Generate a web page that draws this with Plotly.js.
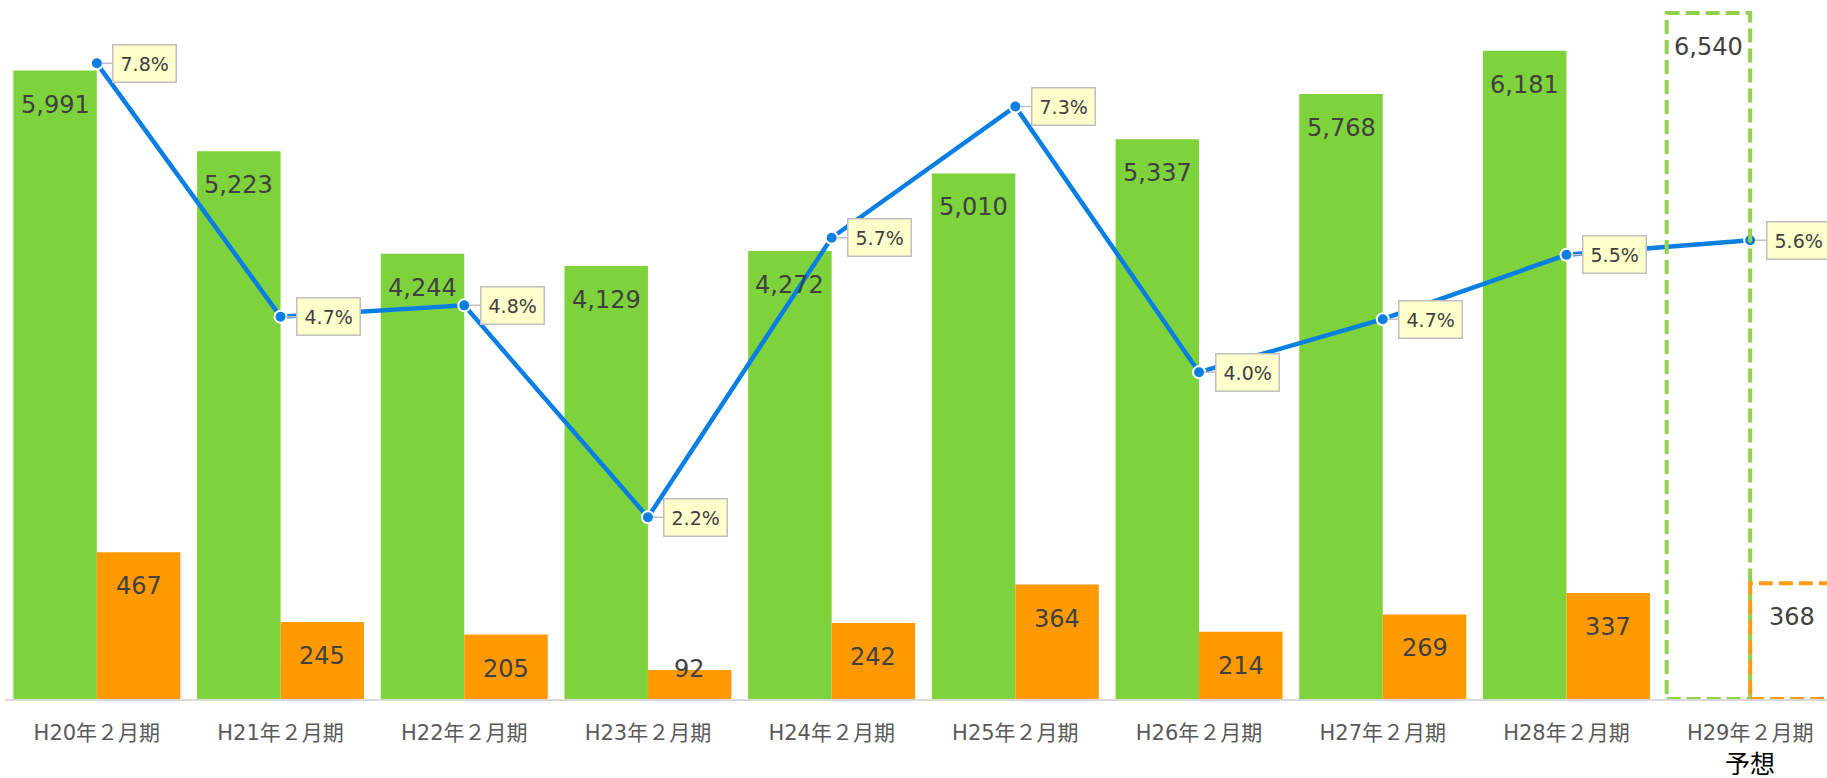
<!DOCTYPE html>
<html>
<head>
<meta charset="utf-8">
<script src="https://cdn.plot.ly/plotly-3.0.1.min.js"></script>
<style>
  html, body { margin: 0; padding: 0; background: #ffffff; }
  #chart { width: 1827px; height: 778px; }
</style>
</head>
<body>
<div id="chart"></div>
<script>
// ---- data ----
const categories = ["H20年２月期", "H21年２月期", "H22年２月期", "H23年２月期", "H24年２月期",
                    "H25年２月期", "H26年２月期", "H27年２月期", "H28年２月期", "H29年２月期"];
const sales      = [5991, 5223, 4244, 4129, 4272, 5010, 5337, 5768, 6181, 6540];
const profit     = [467, 245, 205, 92, 242, 364, 214, 269, 337, 368];
const ratioPct   = [7.80, 4.69, 4.83, 2.23, 5.66, 7.27, 4.01, 4.66, 5.45, 5.63];
const forecastIndex = 9;
const forecastNote  = "予想";

// ---- styles ----
const FONT = "DejaVu Sans, Verdana, 'Noto Sans CJK JP', sans-serif";
const GREEN = "#7ED23B";
const ORANGE = "#FF9900";
const BLUE = "#0A7FE3";
const LABEL = "#404040";
const BW = 0.4545;           // bar width in category units
const SPACING = 183.7;       // px per category
const PLOT_W = 1822;

const idx = categories.map((_, i) => i);
const greenColors = idx.map(i => i === forecastIndex ? "rgba(0,0,0,0)" : GREEN);
const orangeColors = idx.map(i => i === forecastIndex ? "rgba(0,0,0,0)" : ORANGE);

const traces = [
  {
    type: "bar", x: idx, y: sales, yaxis: "y",
    width: BW, offset: -BW,
    marker: { color: greenColors, line: { width: 0 } },
    hoverinfo: "skip"
  },
  {
    type: "bar", x: idx, y: profit, yaxis: "y2",
    width: BW, offset: 0,
    marker: { color: orangeColors, line: { width: 0 } },
    hoverinfo: "skip"
  },
  {
    type: "scatter", mode: "lines+markers", x: idx, y: ratioPct, yaxis: "y3",
    line: { color: BLUE, width: 4.5 },
    marker: { color: BLUE, size: 12, line: { color: "#ffffff", width: 2 } },
    cliponaxis: false,
    hoverinfo: "skip"
  }
];

// pixel scales used only for label offsets
const Y1MAX = 6664, Y2MAX = 2223, Y3MAX = 8.577, PLOT_H = 699;

const annotations = [];
idx.forEach(i => {
  annotations.push({
    x: i - BW / 2, y: sales[i], xref: "x", yref: "y",
    text: sales[i].toLocaleString("en-US"),
    showarrow: false, yanchor: "middle", xanchor: "center", yshift: -34,
    font: { family: FONT, size: 24, color: LABEL }
  });
  const hpx = profit[i] / Y2MAX * PLOT_H;
  annotations.push({
    x: i + BW / 2, y: profit[i], xref: "x", yref: "y2",
    text: profit[i].toLocaleString("en-US"),
    showarrow: false, yanchor: "middle", xanchor: "center",
    yshift: -Math.min(34, hpx - 30),
    font: { family: FONT, size: 24, color: LABEL }
  });
  annotations.push({
    x: i, y: ratioPct[i], xref: "x", yref: "y3",
    text: ratioPct[i].toFixed(1) + "%",
    showarrow: true, arrowhead: 0, arrowwidth: 1.5, arrowcolor: "#BFBFBF",
    ax: 48, ay: 0, standoff: 5,
    bgcolor: "#FFFFCC", bordercolor: "#BFBFBF", borderwidth: 1.5, borderpad: 7,
    font: { family: FONT, size: 19, color: LABEL }
  });
});
annotations.push({
  x: forecastIndex, y: 0, xref: "x", yref: "paper",
  text: forecastNote, showarrow: false, yanchor: "middle", xanchor: "center", yshift: -65,
  font: { family: FONT, size: 25, color: "#000000" }
});

const shapes = [
  {
    type: "rect", xref: "x", yref: "y",
    x0: forecastIndex - BW, x1: forecastIndex, y0: 0, y1: sales[forecastIndex],
    line: { color: "#92D050", width: 4, dash: "14px,6px" }, fillcolor: "rgba(0,0,0,0)"
  },
  {
    type: "rect", xref: "x", yref: "y2",
    x0: forecastIndex, x1: forecastIndex + BW, y0: 0, y1: profit[forecastIndex],
    line: { color: "#FF9A1A", width: 4, dash: "14px,6px" }, fillcolor: "rgba(0,0,0,0)"
  }
];

const hiddenAxis = { showgrid: false, zeroline: false, showticklabels: false, showline: false, ticks: "", fixedrange: true };

const layout = {
  width: 1827, height: 778,
  margin: { l: 5, r: 0, t: 0, b: 79, pad: 0 },
  paper_bgcolor: "#ffffff", plot_bgcolor: "#ffffff",
  showlegend: false,
  barmode: "overlay",
  xaxis: {
    range: [-0.5, -0.5 + PLOT_W / SPACING],
    tickmode: "array", tickvals: idx, ticktext: categories,
    showgrid: false, zeroline: false,
    showline: true, linecolor: "#D9D9D9", linewidth: 2,
    ticks: "", ticklabelstandoff: 14,
    tickfont: { family: FONT, size: 21, color: "#595959" }
  },
  yaxis: Object.assign({ range: [0, Y1MAX] }, hiddenAxis),
  yaxis2: Object.assign({ range: [0, Y2MAX], overlaying: "y" }, hiddenAxis),
  yaxis3: Object.assign({ range: [0, Y3MAX], overlaying: "y" }, hiddenAxis),
  annotations: annotations,
  shapes: shapes
};

Plotly.newPlot("chart", traces, layout, { staticPlot: true, displayModeBar: false });
</script>
</body>
</html>
